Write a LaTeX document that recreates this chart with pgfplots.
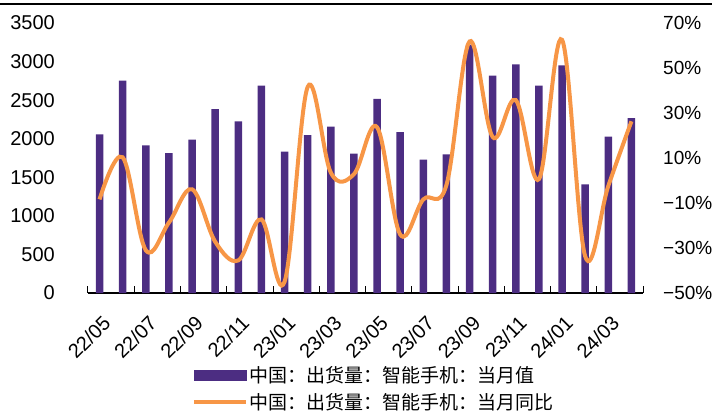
\documentclass[border=0pt]{standalone}
\usepackage{fontspec}
\setmainfont{Liberation Sans}
\newfontfamily\cjk{Noto Sans CJK SC}
\usepackage{pgfplots}
\pgfplotsset{compat=1.18}
\definecolor{barpurple}{RGB}{76,45,130}
\definecolor{lineorange}{RGB}{247,150,70}

% month index, shipments (10k units), yoy (%)
\pgfplotstableread{
x val yoy
0 2057 -8.4
1 2752 10.3
2 1914 -31.0
3 1814 -18.7
4 1987 -3.9
5 2385 -27.2
6 2225 -35.5
7 2687 -17.3
8 1832 -45.0
9 2048 41.6
10 2156 3.5
11 1806 2.8
12 2518 23.7
13 2087 -24.0
14 1728 -8.4
15 1797 -2.0
16 3220 61.8
17 2817 19.3
18 2963 35.7
19 2687 0.6
20 2950 62.5
21 1408 -33.7
22 2026 -2.4
23 2268 26.3
}\datatable

\begin{document}
\begin{tikzpicture}
\useasboundingbox (-88pt,-119pt) rectangle (624pt,293pt);
\draw[line width=1.5pt] (-88pt,289pt) -- (624pt,289pt);
\pgfplotsset{
  every axis/.append style={
    scale only axis, width=555pt, height=270pt,
    xmin=-0.5, xmax=23.5,
    tick label style={font=\fontsize{20}{24}\selectfont},
    /pgf/number format/assume math mode=true,
    /pgf/number format/1000 sep={},
  }
}
\begin{axis}[
  axis x line*=bottom, axis y line*=left,
  x axis line style={-, line width=1.2pt},
  y axis line style={draw=none},
  ymin=0, ymax=3500, ytick={0,500,...,3500},
  ytick style={draw=none},
  yticklabel style={anchor=east, inner sep=0pt, xshift=-33pt},
  scaled y ticks=false,
  xtick={0,2,...,22},
  xticklabels={22/05,22/07,22/09,22/11,23/01,23/03,23/05,23/07,23/09,23/11,24/01,24/03},
  major x tick style={draw=none},
  minor xtick={-0.5,1.5,...,23.5},
  minor x tick style={black, line width=1pt},
  minor tick length=7pt,
  tick align=inside,
  xticklabel style={font=\fontsize{20}{24}\selectfont, yshift=-21pt, xshift=2pt, rotate=45, anchor=north east, inner sep=0pt},
]
\addplot[ybar, bar width=7.5pt, fill=barpurple, draw=none] table[x=x, y=val] {\datatable};
\end{axis}
\begin{axis}[
  hide x axis,
  axis y line*=right,
  y axis line style={draw=none},
  ymin=-50, ymax=70, ytick={-50,-30,...,70},
  yticklabels={−50\%,−30\%,−10\%,10\%,30\%,50\%,70\%},
  ytick style={draw=none},
  yticklabel style={font=\fontsize{19}{23}\selectfont, anchor=west, inner sep=0pt, xshift=20pt},
  legend style={at={(0.187,-0.265)}, anchor=north west, draw=none, fill=none,
    font=\cjk\fontsize{19}{23}\selectfont, inner sep=0pt, row sep=5pt,
    cells={anchor=west}},
]
\addlegendimage{legend image code/.code={\fill[barpurple] (0pt,-5pt) rectangle (52pt,5pt);}}
\addlegendentry{中国：出货量：智能手机：当月值}
\addplot[lineorange, line width=4pt, smooth, tension=0.6,
  legend image code/.code={\draw[lineorange, line width=4pt] (0pt,0pt) -- (52pt,0pt);}]
  table[x=x, y=yoy] {\datatable};
\addlegendentry{中国：出货量：智能手机：当月同比}
\end{axis}
\end{tikzpicture}
\end{document}
